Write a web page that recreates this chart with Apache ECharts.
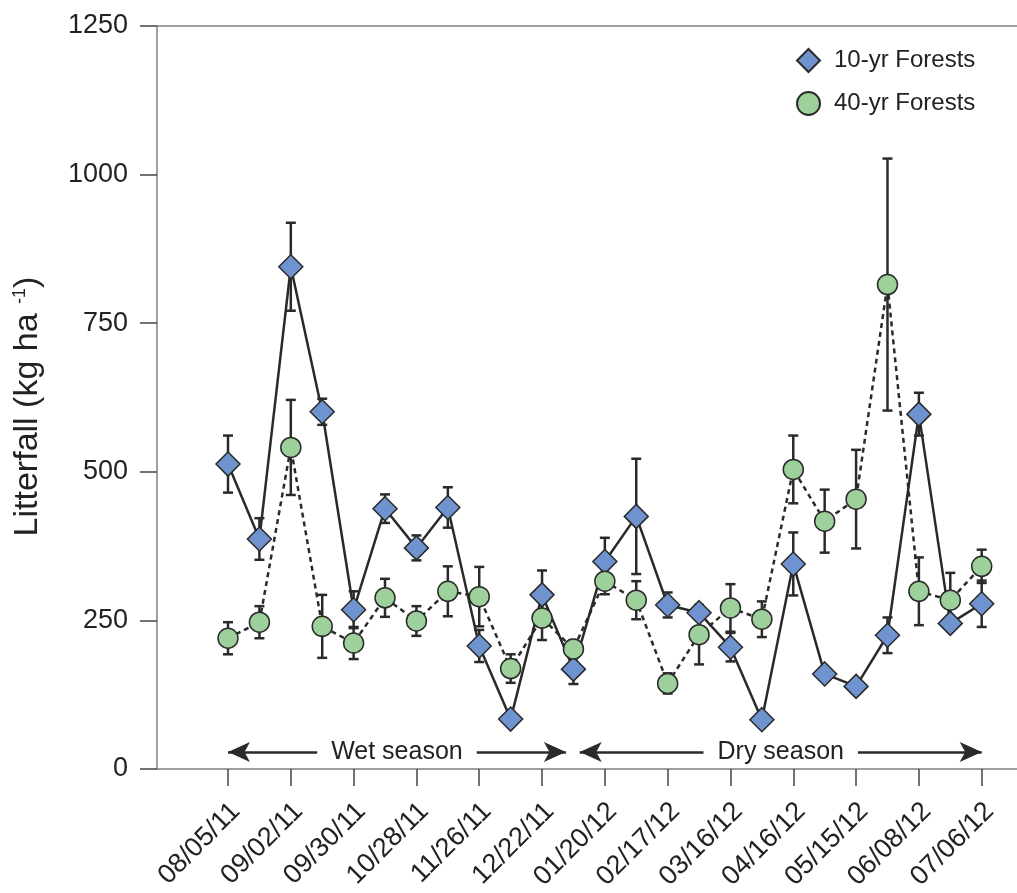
<!DOCTYPE html>
<html>
<head>
<meta charset="utf-8">
<script src="https://cdn.jsdelivr.net/npm/echarts@6/dist/echarts.min.js"></script>
<style>
html,body{margin:0;padding:0;background:#fff;}
#c{width:1017px;height:893px;}
</style>
</head>
<body>
<div id="c"></div>
<script>
// ---- data ----
const dateLabels = ['08/05/11','09/02/11','09/30/11','10/28/11','11/26/11','12/22/11','01/20/12','02/17/12','03/16/12','04/16/12','05/15/12','06/08/12','07/06/12'];
// 25 sampling events; labels shown on every other event
const tenYr     = [513, 387, 845, 601, 268, 438, 372, 440, 207,  84, 293, 168, 349, 425, 276, 263, 205,  83, 345, 160, 139, 225, 597, 245, 278];
const tenYrErr  = [ 48,  35,  74,  22,  31,  24,  21,  34,  27,   5,  41,  25,  40,  97,  21,  10,  24,   5,  53,   8,   8,  30,  36,  10,  39];
const fortyYr   = [220, 247, 541, 240, 212, 288, 249, 299, 290, 169, 254, 202, 316, 284, 144, 226, 271, 252, 504, 417, 454, 815, 299, 284, 341];
const fortyYrErr= [ 27,  27,  80,  53,  27,  32,  25,  42,  50,  24,  37,  15,  22,  32,  17,  50,  40,  30,  57,  53,  83, 212,  57,  46,  28];
const yTicks = [0, 250, 500, 750, 1000, 1250];
const seriesNames = ['10-yr Forests', '40-yr Forests'];
const seasons = [
  {name: 'Wet season', from: 0, to: 10.76},
  {name: 'Dry season', from: 11.2, to: 24}
];
const seasonLevel = 28.6;

// ---- build ----
const labelIdx = dateLabels.map((_, k) => k * 2);
const FONT = "'Liberation Sans', Arial, Helvetica, sans-serif";
const DARK = '#2a2a2a';

function pts(vals){ return vals.map((v,i)=>[i, v]); }
function errPts(vals, errs){ return vals.map((v,i)=>[i, v, errs[i]]); }

function errRender(params, api){
  const x = api.value(0), v = api.value(1), e = api.value(2);
  const t = api.coord([x, v + e]);
  const b = api.coord([x, v - e]);
  const hw = 5;
  const st = {stroke: DARK, lineWidth: 2.5};
  return {type:'group', children:[
    {type:'line', shape:{x1:t[0], y1:t[1], x2:b[0], y2:b[1]}, style:st},
    {type:'line', shape:{x1:t[0]-hw, y1:t[1], x2:t[0]+hw, y2:t[1]}, style:st},
    {type:'line', shape:{x1:b[0]-hw, y1:b[1], x2:b[0]+hw, y2:b[1]}, style:st}
  ]};
}

const xMin = -2.261, xMax = 25.124;
const labelShift = 0.25; // rotated labels sit slightly right of their ticks

const option = {
  backgroundColor: '#fff',
  animation: false,
  textStyle: {fontFamily: FONT, color: '#222'},
  grid: {left: 157, right: 0, top: 26, bottom: 123},
  legend: {
    orient: 'vertical', left: 791, top: 43, itemGap: 18,
    itemWidth: 23, itemHeight: 23,
    textStyle: {fontSize: 24, color: '#222', fontFamily: FONT, padding: [0,0,0,9]},
    data: [
      {name: seriesNames[0], icon: 'diamond'},
      {name: seriesNames[1], icon: 'circle'}
    ]
  },
  xAxis: [{
    type: 'value', min: xMin, max: xMax,
    splitLine: {show: false},
    axisLine: {show: true, onZero: false, lineStyle: {color: '#808080', width: 1.5}},
    axisTick: {show: true, length: 17, customValues: labelIdx, lineStyle: {color: '#444', width: 1.5}},
    axisLabel: {show: false}
  }, {
    type: 'value', position: 'top', min: xMin, max: xMax,
    splitLine: {show: false},
    axisLine: {show: true, onZero: false, lineStyle: {color: '#808080', width: 1.5}},
    axisTick: {show: false}, axisLabel: {show: false}
  }, {
    type: 'value', position: 'bottom', min: xMin - labelShift, max: xMax - labelShift,
    splitLine: {show: false},
    axisLine: {show: false, onZero: false},
    axisTick: {show: false},
    axisLabel: {
      customValues: labelIdx, rotate: 45, fontSize: 27, color: '#222', margin: 38, fontFamily: FONT,
      formatter: v => dateLabels[Math.round(v) / 2] || ''
    }
  }],
  yAxis: {
    type: 'value', min: 0, max: 1250, interval: 250,
    splitLine: {show: false},
    axisLine: {show: true, onZero: false, lineStyle: {color: '#808080', width: 1.5}},
    axisTick: {show: true, length: 17, lineStyle: {color: '#444', width: 1.5}},
    axisLabel: {fontSize: 27, color: '#222', margin: 29, fontFamily: FONT, formatter: v => String(v)},
    name: '{a|Litterfall (kg ha }{b|-1}{a|)}',
    nameLocation: 'middle', nameGap: 112, nameRotate: 90,
    nameTextStyle: {
      padding: [0, 18, 0, 0],
      rich: {
        a: {fontSize: 34, color: '#222', fontFamily: FONT},
        b: {fontSize: 18, color: '#222', fontFamily: FONT, verticalAlign: 'top', padding: [0,0,15,0]}
      }
    }
  },
  series: [
    {
      type: 'custom', name: 'err10', z: 1, silent: true,
      renderItem: errRender, data: errPts(tenYr, tenYrErr),
      encode: {x: 0, y: 1}, clip: false
    },
    {
      type: 'custom', name: 'err40', z: 1, silent: true,
      renderItem: errRender, data: errPts(fortyYr, fortyYrErr),
      encode: {x: 0, y: 1}, clip: false
    },
    {
      type: 'line', name: seriesNames[0], z: 3,
      data: pts(tenYr),
      symbol: 'diamond', symbolSize: 24,
      lineStyle: {color: DARK, width: 2.5, type: 'solid'},
      itemStyle: {color: '#6f93cf', borderColor: DARK, borderWidth: 1.5},
      markLine: {
        silent: true, animation: false,
        symbol: ['arrow', 'arrow'], symbolSize: [15, 22],
        lineStyle: {color: DARK, width: 2.5, type: 'solid'},
        label: {
          show: true, position: 'middle', distance: 0, verticalAlign: 'middle',
          fontSize: 25, color: '#222', fontFamily: FONT,
          backgroundColor: '#fff', padding: [2, 14, 2, 14],
          formatter: p => p.name
        },
        data: seasons.map(s => [
          {name: s.name, coord: [s.from, seasonLevel]},
          {coord: [s.to, seasonLevel]}
        ])
      }
    },
    {
      type: 'line', name: seriesNames[1], z: 3,
      data: pts(fortyYr),
      symbol: 'circle', symbolSize: 20,
      lineStyle: {color: DARK, width: 2.5, type: [5, 4]},
      itemStyle: {color: '#9ed09c', borderColor: DARK, borderWidth: 1.5}
    }
  ]
};

const chart = echarts.init(document.getElementById('c'), null, {renderer: 'canvas'});
chart.setOption(option);
</script>
</body>
</html>
